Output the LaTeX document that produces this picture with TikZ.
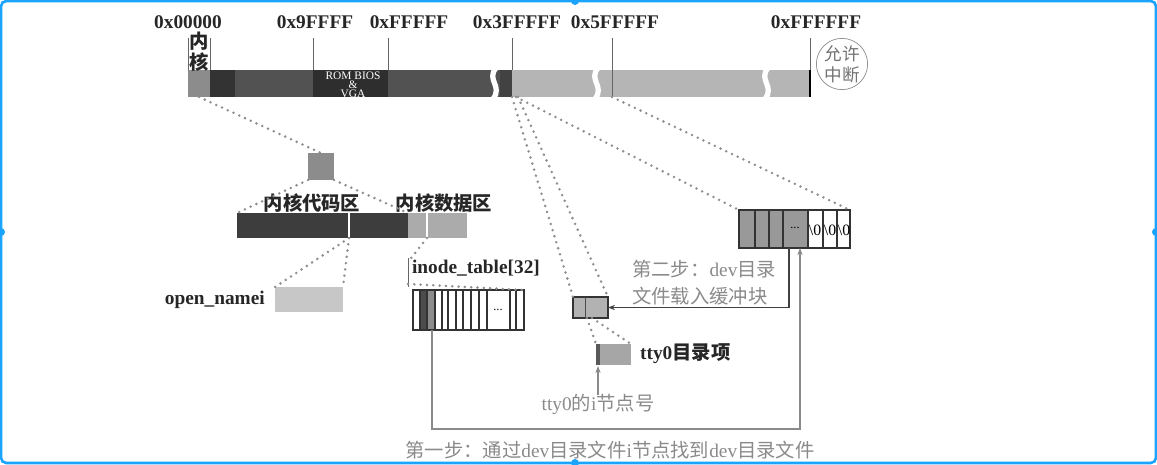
\documentclass[tikz,border=0pt]{standalone}
\usepackage{fontspec}
\setmainfont{Liberation Serif}
\newfontfamily\cjk{Noto Sans CJK SC}
\usetikzlibrary{positioning, arrows.meta}
\definecolor{frameblue}{HTML}{1AA3FF}
\definecolor{dotgrey}{HTML}{8E8E8E}
\definecolor{txtgrey}{HTML}{8A8A8A}
\tikzset{
    blk/.style={inner sep=0pt, outer sep=0pt, anchor=north west},
    zoomline/.style={dotgrey, line width=1.6pt, line cap=round, dash pattern=on 0pt off 3.6pt},
    addr/.style={font=\bfseries\fontsize{11}{12}\selectfont, text=black!85},
    tick/.style={black!60, line width=0.5pt},
    cjklabel/.style={font=\cjk\bfseries\fontsize{11}{12}\selectfont, text=black!85},
    greylabel/.style={font=\fontsize{11}{13}\selectfont, text=txtgrey},
}

\begin{document}
\begin{tikzpicture}[x=0.02cm, y=-0.02cm]
        \useasboundingbox (0,0) rectangle (1157,464);
        % screenshot frame
        \draw[frameblue, line width=1.5pt, rounded corners=3pt] (1,1) rectangle (1156,463);
        \foreach \hx/\hy in {575/1, 1/232, 1156/232, 575/463}
            \fill[frameblue] (\hx,\hy) circle (4);

        % memory strip
        \node[blk, fill=black!45, minimum width=0.44cm, minimum height=0.54cm] (kern) at (188,70) {};
        \fill[black!80] (210,70) rectangle (235,97);
        \fill[black!68] (235,70) rectangle (313,97);
        \fill[black!82] (313,70) rectangle (388,97);
        \fill[black!68] (388,70) rectangle (500,97);
        \fill[black!74] (500,70) rectangle (512,97);
        \fill[black!29] (512,70) rectangle (810,97);
        \foreach \bx in {496, 598, 768}
            \draw[white, line width=3pt] (\bx,68) .. controls (\bx-10,80) and (\bx+7,86) .. (\bx-3,99);
        \draw[black, line width=1.2pt] (810,70) -- (810,97);
        \foreach \tx in {188, 210, 313, 388, 512}
            \draw[tick] (\tx,38) -- (\tx,70);
        \draw[tick] (612,38) -- (612,97);
        \draw[tick] (810,38) -- (810,70);
        \node[font=\fontsize{6.5}{5}\selectfont, text=white, align=center, inner sep=0pt] (rom) at (353,85) {ROM BIOS\\\&\\VGA};

        % addresses
        \node[addr] (a0) at (188,22) {0x00000};
        \node[addr] (a1) at (315,22) {0x9FFFF};
        \node[addr] (a2) at (409,22) {0xFFFFF};
        \node[addr] (a3) at (517,22) {0x3FFFFF};
        \node[addr] (a4) at (615,22) {0x5FFFFF};
        \node[addr] (a5) at (816,22) {0xFFFFFF};
        \node[cjklabel, inner sep=0pt] (nei) at (199,41) {内};
        \node[cjklabel, inner sep=0pt] (he) at (199,62) {核};

        % interrupt mark
        \node[circle, draw=black!45, minimum size=0.96cm, inner sep=0pt, align=center,
              font=\cjk\fontsize{10}{12}\selectfont, text=black!55] (intr) at (842,64) {允许\\中断};

        % kernel zoom
        \node[blk, fill=black!45, minimum width=0.52cm, minimum height=0.54cm] (ksq) at (308,153) {};
        \node[blk, fill=black!76, minimum width=3.42cm, minimum height=0.5cm] (code) at (237,213) {};
        \node[blk, fill=black!33, minimum width=1.18cm, minimum height=0.5cm] (data) at (408,213) {};
        \draw[white, line width=0.6pt] (349,213) -- (349,238);
        \draw[white, line width=0.6pt] (427,213) -- (427,238);
        \node[cjklabel] (codelbl) at (312,203) {内核代码区};
        \node[cjklabel] (datalbl) at (444,203) {内核数据区};
        \coordinate (fn) at (349,238);
        \coordinate (inodesel) at (427,238);

        % open_namei
        \node[blk, fill=black!22, minimum width=1.36cm, minimum height=0.5cm] (onb) at (275,287) {};
        \node[addr, anchor=east] (onlbl) at (271,300) {open\_namei};

        % inode table
        \node[addr, anchor=west, inner sep=1pt] (itlbl) at (410,268) {inode\_table[32]};
        \draw[tick] (408,258) -- (408,287);
        \coordinate (itmark) at (408,262);
        \coordinate (itfan) at (408,284);
        \fill[black!70] (420,290) rectangle (427,330);
        \fill[black!45] (427,290) rectangle (435,330);
        \node[blk, draw=black!80, line width=0.7pt, minimum width=2.22cm, minimum height=0.8cm] (itab) at (413,290) {};
        \foreach \cx in {420, 427, 435, 442, 448, 456, 463, 471, 479, 487, 510, 516}
            \draw[black!80, line width=0.6pt] (\cx,290) -- (\cx,330);
        \node[font=\fontsize{7}{7}\selectfont] (itdots) at (498,310) {...};
        \coordinate (ttyinode) at (432,330);

        % buffer block and directory entry
        \node[blk, draw=black!80, fill=black!30, line width=0.7pt, minimum width=0.7cm, minimum height=0.42cm] (bsm) at (573,297) {};
        \draw[black!70] (585,297) -- (585,318);
        \coordinate (entry) at (587,318);
        \node[blk, fill=black!35, minimum width=0.7cm, minimum height=0.42cm] (ttybox) at (596,344) {};
        \fill[black!65] (596,344) rectangle (600,365);
        \node[cjklabel, anchor=west] (ttylbl) at (634,354) {\rmfamily\bfseries tty0{\cjk\bfseries 目录项}};

        % dev directory file
        \fill[black!40] (739,210) rectangle (808,248);
        \node[blk, draw=black!80, line width=0.7pt, minimum width=2.22cm, minimum height=0.76cm] (devblk) at (739,210) {};
        \foreach \cx in {755, 769, 783, 808, 823, 837}
            \draw[black!80, line width=0.6pt] (\cx,210) -- (\cx,248);
        \node[font=\fontsize{7}{7}\selectfont] (devdots) at (795,228) {...};
        \foreach \zx in {815, 830, 844}
            \node[font=\fontsize{9}{9}\selectfont, inner sep=0pt] at (\zx,230) {\textbackslash0};
        \coordinate (devsrc) at (789,248);
        \coordinate (devin) at (800,248);

        % zoom lines
        \draw[zoomline] (kern.south) -- (ksq.north);
        \draw[zoomline] (ksq.south west) -- (code.north west);
        \draw[zoomline] (ksq.south east) -- (data.north west);
        \draw[zoomline] (fn) -- (onb.north west);
        \draw[zoomline] (fn) -- (onb.north east);
        \draw[zoomline] (inodesel) -- (itmark);
        \draw[zoomline] (itfan) -- (itab.north east);
        \draw[zoomline] (512,97) -- (bsm.north west);
        \draw[zoomline] (518,97) -- (bsm.north east);
        \draw[zoomline] (516,97) -- (devblk.north west);
        \draw[zoomline] (612,97) -- (devblk.north east);
        \draw[zoomline] (entry) -- (ttybox.north west);
        \draw[zoomline] (592,318) -- (ttybox.north east);

        % step two
        \draw[black!75, line width=0.8pt, -{Stealth[length=4pt, width=3pt]}] (devsrc) |- (bsm.east);
        \node[greylabel, anchor=north west, align=left, font=\cjk\fontsize{11}{15.5}\selectfont] (step2) at (626,254)
            {第二步：{\rmfamily dev}目录\\文件载入缓冲块};

        % tty0 inode number
        \coordinate (inum) at (598,395);
        \draw[txtgrey, line width=0.6pt, -{Stealth[length=4pt, width=3pt]}] (inum) -- (598,366);
        \node[greylabel, font=\cjk\fontsize{11}{13}\selectfont] (inumlbl) at (598,404) {{\rmfamily tty0}的{\rmfamily i}节点号};

        % step one
        \draw[txtgrey, line width=0.6pt, -{Stealth[length=4pt, width=3pt]}] (ttyinode) -- (432,429) -| (devin);
        \node[greylabel, font=\cjk\fontsize{11}{13}\selectfont] (step1) at (610,450)
            {第一步：通过{\rmfamily dev}目录文件{\rmfamily i}节点找到{\rmfamily dev}目录文件};
\end{tikzpicture}
\end{document}
